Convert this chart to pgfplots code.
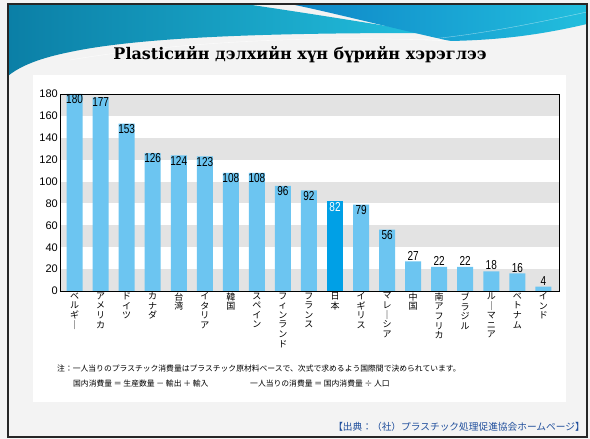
\documentclass[border=0pt]{standalone}
\usepackage{fontspec}
\setmainfont{Liberation Sans}
\newfontfamily\cjk{Noto Sans CJK JP}
\newfontfamily\narrow[FakeStretch=0.77]{Liberation Sans}
\newfontfamily\titlefont{DejaVu Serif}
\usepackage{pgfplots}
\pgfplotsset{compat=1.18}
\definecolor{barblue}{HTML}{6CC5F1}
\definecolor{japan}{HTML}{00A0E6}
\definecolor{band}{HTML}{E3E3E3}
\definecolor{slidebg}{HTML}{F3F3F3}
\definecolor{teal1}{HTML}{0B7FA6}
\definecolor{teal2}{HTML}{22BEDD}
\definecolor{blue1}{HTML}{0E86C8}
\definecolor{src}{HTML}{1F4E9C}
\begin{document}
\begin{tikzpicture}
\useasboundingbox (0,0) rectangle (590pt,439pt);
\begin{scope}[x=1pt,y=-1pt,yshift=439pt]
  \fill[slidebg] (0,0) rectangle (590,439);
  % header
  \shade[left color=teal1,right color=teal2] (8,4) -- (245,4) .. controls (320,15) and (380,25) .. (430,33)
     .. controls (300,33) and (150,35) .. (70,52) .. controls (40,58) and (20,66) .. (8,76) -- cycle;
  \shade[left color=blue1,right color=teal2] (290,4) -- (587,4) -- (587,24)
     .. controls (540,35) and (500,40) .. (450,41) .. controls (400,30) and (330,12) .. (290,4) -- cycle;
  \draw[white,opacity=0.6,line width=0.6pt] (70,60) .. controls (200,38) and (350,36) .. (450,41);
  \draw[white,opacity=0.5,line width=0.4pt] (420,40) .. controls (480,35) and (540,22) .. (587,12);
  % white panel
  \fill[white] (33,75) rectangle (566,402);
  % frame
  \draw[black!85,line width=2.5pt] (8,4) rectangle (587,437);
  % title
  \node[font=\titlefont\bfseries\fontsize{16}{18}\selectfont] at (300,55) {Plasticийн дэлхийн хүн бүрийн хэрэглээ};
  % notes
  \node[anchor=west,font=\cjk\fontsize{7.8}{8.5}\selectfont,inner sep=0] at (57,369) {注：一人当りのプラスチック消費量はプラスチック原材料ベースで、次式で求めるよう国際間で決められています。};
  \node[anchor=west,font=\cjk\fontsize{7.8}{8.5}\selectfont,inner sep=0] at (73,384) {国内消費量 ＝ 生産数量 － 輸出 ＋ 輸入};
  \node[anchor=west,font=\cjk\fontsize{7.8}{8.5}\selectfont,inner sep=0] at (250,384) {一人当りの消費量 ＝ 国内消費量 ÷ 人口};
  \node[anchor=east,font=\cjk\fontsize{9.7}{10}\selectfont,text=src,inner sep=0] at (585,427) {【出典：（社）プラスチック処理促進協会ホームページ】};
\end{scope}
\begin{axis}[
  at={(60pt,148pt)}, anchor=south west,
  width=499pt, height=197pt, scale only axis,
  xmin=-0.56, xmax=18.6, ymin=0, ymax=180,
  ytick={0,20,...,180},
  xtick={0,...,18},
  xticklabels={{ベ\\ル\\ギ\\｜},{ア\\メ\\リ\\カ},{ド\\イ\\ツ},{カ\\ナ\\ダ},{台\\湾},{イ\\タ\\リ\\ア},{韓\\国},{ス\\ペ\\イ\\ン},{フ\\ィ\\ン\\ラ\\ン\\ド},{フ\\ラ\\ン\\ス},{日\\本},{イ\\ギ\\リ\\ス},{マ\\レ\\｜\\シ\\ア},{中\\国},{南\\ア\\フ\\リ\\カ},{ブ\\ラ\\ジ\\ル},{ル\\｜\\マ\\ニ\\ア},{ベ\\ト\\ナ\\ム},{イ\\ン\\ド}},
  xticklabel style={font=\cjk\fontsize{9}{9.6}\selectfont, align=center, anchor=north, inner sep=1.5pt},
  yticklabel style={font=\fontsize{11}{11}\selectfont, inner sep=2pt},
  /pgf/number format/assume math mode=true,
  major tick length=0pt,
  axis line style={black, line width=0.8pt},
  axis on top,
  clip=true,
]
\fill[band] (axis cs:-1,0) rectangle (axis cs:20,20);
\fill[band] (axis cs:-1,40) rectangle (axis cs:20,60);
\fill[band] (axis cs:-1,80) rectangle (axis cs:20,100);
\fill[band] (axis cs:-1,120) rectangle (axis cs:20,140);
\fill[band] (axis cs:-1,160) rectangle (axis cs:20,180);
\addplot[ybar, bar width=16pt, bar shift=0pt, fill=barblue, draw=none,
  nodes near coords, every node near coord/.append style={anchor=north, font=\narrow\fontsize{13}{13}\selectfont, inner sep=0.5pt, text=black}]
  coordinates {(0,180)(1,177)(2,153)(3,126)(4,124)(5,123)(6,108)(7,108)(8,96)(9,92)(11,79)(12,56)};
\addplot[ybar, bar width=16pt, bar shift=0pt, fill=japan, draw=none,
  nodes near coords, every node near coord/.append style={anchor=north, font=\narrow\fontsize{13}{13}\selectfont, inner sep=0.5pt, text=white}]
  coordinates {(10,82)};
\addplot[ybar, bar width=16pt, bar shift=0pt, fill=barblue, draw=none,
  nodes near coords, every node near coord/.append style={anchor=south, font=\narrow\fontsize{13}{13}\selectfont, inner sep=1pt, text=black}]
  coordinates {(13,27)(14,22)(15,22)(16,18)(17,16)(18,4)};
\end{axis}
\end{tikzpicture}
\end{document}
